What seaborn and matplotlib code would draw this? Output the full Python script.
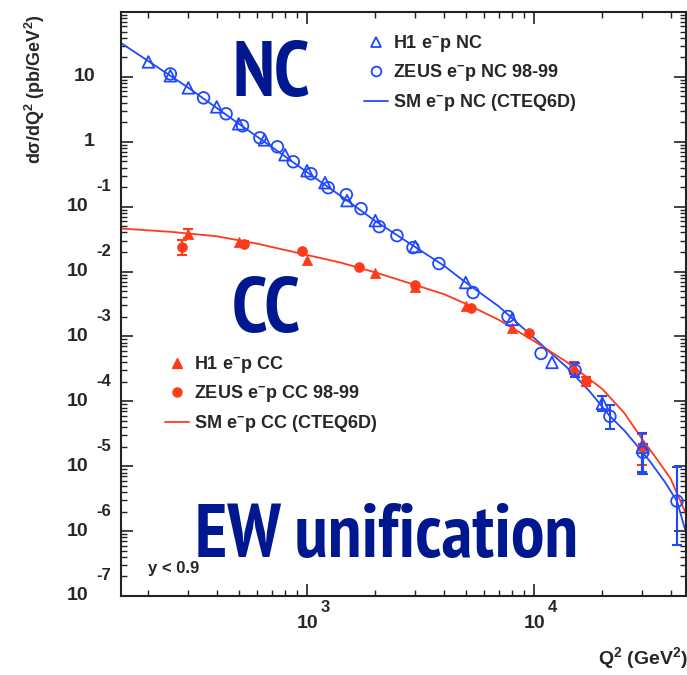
import math
import matplotlib.pyplot as plt
import seaborn as sns
from matplotlib import font_manager
from matplotlib.lines import Line2D
from matplotlib.ticker import LogLocator, NullFormatter

# ---- data ----
# SM curves (CTEQ6D)
q2_nc_curve = [152, 200, 300, 500, 700, 1000, 1500, 2000, 3000, 4000, 5000, 7000,
               10000, 14000, 17660, 21600, 25100, 29300, 32400, 37760, 42650, 47200]
xs_nc_curve = [33, 17.5, 6.8, 1.9, 0.83, 0.34, 0.125, 0.06, 0.0238, 0.0124, 0.0068, 0.0029,
               9.5e-4, 3.3e-4, 1.4e-4, 5.9e-5, 3.5e-5, 1.83e-5, 1.19e-5, 5.7e-6, 2.9e-6, 8.4e-7]

q2_cc_curve = [152, 250, 400, 600, 1000, 1400, 2000, 3000, 4000, 5000, 7000, 10000,
               14000, 20000, 25000, 30000, 35000, 40000, 47200]
xs_cc_curve = [0.046, 0.041, 0.035, 0.027, 0.018, 0.0138, 0.0097, 0.0062, 0.0045, 0.0032,
               0.0018, 8.5e-4, 4.0e-4, 1.55e-4, 6.6e-5, 2.6e-5, 1.25e-5, 6.4e-6, 1.7e-6]

# H1 e-p NC
q2_h1_nc = [200, 250, 300, 400, 500, 650, 800, 1000, 1200, 1500, 2000, 3000, 5000, 8000,
            12000, 20000, 30000]
xs_h1_nc = [17.0, 10.4, 6.78, 3.45, 1.89, 1.07, 0.631, 0.358, 0.234, 0.124, 0.0609, 0.0243,
            0.00677, 0.00183, 3.98e-4, 9.3e-5, 1.96e-5]
err_q2_h1_nc = [20000, 30000]
err_lo_h1_nc = [7.0e-5, 8.1e-6]
err_hi_h1_nc = [1.19e-4, 3.3e-5]

# ZEUS e-p NC 98-99
q2_zeus_nc = [250, 350, 440, 520, 620, 740, 870, 1040, 1240, 1490, 1730, 2080, 2490, 2930,
              3810, 5390, 7680, 10740, 15170, 21600, 30200, 42650]
xs_zeus_nc = [11.1, 4.75, 2.70, 1.76, 1.15, 0.837, 0.492, 0.322, 0.196, 0.153, 0.0931, 0.0492,
              0.0358, 0.0234, 0.01327, 0.00475, 0.00203, 5.47e-4, 3.0e-4, 5.87e-5, 1.64e-5, 2.9e-6]
err_q2_zeus_nc = [15170, 21600, 30200, 42650]
err_lo_zeus_nc = [2.34e-4, 3.7e-5, 7.5e-6, 6.1e-7]
err_hi_zeus_nc = [3.85e-4, 8.67e-5, 2.18e-5, 9.66e-6]

# H1 e-p CC
q2_h1_cc = [300, 500, 1000, 2000, 3000, 5000, 8000, 15000, 30000]
xs_h1_cc = [0.0385, 0.029, 0.0153, 0.00966, 0.0058, 0.0029, 0.00137, 3.33e-4, 2.18e-5]
err_q2_h1_cc = [300, 15000, 30000]
err_lo_h1_cc = [0.0333, 2.6e-4, 7.5e-6]
err_hi_h1_cc = [0.0459, 4.1e-4, 3.3e-5]

# ZEUS e-p CC 98-99
q2_zeus_cc = [280, 530, 950, 1700, 3000, 5300, 9500, 17000, 30000]
xs_zeus_cc = [0.0243, 0.027, 0.021, 0.0119, 0.0061, 0.0027, 0.00115, 2.03e-4, 2.0e-5]
err_q2_zeus_cc = [280, 530, 17000, 30000]
err_lo_zeus_cc = [0.0183, 0.0245, 1.7e-4, 1.05e-5]
err_hi_zeus_cc = [0.031, 0.030, 2.4e-4, 3.1e-5]

blue = '#1f48ff'
red = '#ff3a1a'
navy = '#00188f'

sns.set_style('ticks')
plt.rcParams['font.family'] = ['Liberation Sans', 'DejaVu Sans']
plt.rcParams['font.weight'] = 'bold'
plt.rcParams['mathtext.fontset'] = 'custom'
plt.rcParams['mathtext.rm'] = 'Liberation Sans:bold'
plt.rcParams['mathtext.bf'] = 'Liberation Sans:bold'
plt.rcParams['mathtext.it'] = 'Liberation Sans:bold:italic'
plt.rcParams['mathtext.default'] = 'rm'

W, H = 687, 675
fig = plt.figure(figsize=(W / 100, H / 100), dpi=100)
ax = fig.add_axes([121 / W, 1 - 596 / H, (686 - 121) / W, (596 - 12) / H])
ax.set_xscale('log')
ax.set_yscale('log')
ax.set_xlim(151.5, 46740)
ax.set_ylim(1e-7, 1e2)

# curves
sns.lineplot(x=q2_nc_curve, y=xs_nc_curve, color=blue, lw=1.3, estimator=None, ax=ax)
sns.lineplot(x=q2_cc_curve, y=xs_cc_curve, color=red, lw=1.3, estimator=None, ax=ax)

# error bars
def bars(q, lo, hi, yq, yv, col):
    yy = [yv[yq.index(v)] for v in q]
    ax.errorbar(q, yy, yerr=[[a - b for a, b in zip(yy, lo)], [b - a for a, b in zip(yy, hi)]],
                fmt='none', ecolor=col, elinewidth=1.5, capsize=3.5, capthick=1.5, zorder=3)

bars(err_q2_h1_cc, err_lo_h1_cc, err_hi_h1_cc, q2_h1_cc, xs_h1_cc, red)
bars(err_q2_zeus_cc, err_lo_zeus_cc, err_hi_zeus_cc, q2_zeus_cc, xs_zeus_cc, red)
bars(err_q2_h1_nc, err_lo_h1_nc, err_hi_h1_nc, q2_h1_nc, xs_h1_nc, blue)
bars(err_q2_zeus_nc, err_lo_zeus_nc, err_hi_zeus_nc, q2_zeus_nc, xs_zeus_nc, blue)

# points
sns.scatterplot(x=q2_h1_cc, y=xs_h1_cc, marker='^', color=red, edgecolor=red, s=55, linewidth=0.5, ax=ax, zorder=4)
sns.scatterplot(x=q2_zeus_cc, y=xs_zeus_cc, marker='o', color=red, edgecolor=red, s=50, linewidth=0.5, ax=ax, zorder=4)
sns.scatterplot(x=q2_h1_nc, y=xs_h1_nc, marker='^', color=blue, facecolors='none', edgecolor=blue, s=70, linewidth=1.3, ax=ax, zorder=4)
sns.scatterplot(x=q2_zeus_nc, y=xs_zeus_nc, marker='o', color=blue, facecolors='none', edgecolor=blue, s=70, linewidth=1.3, ax=ax, zorder=4)

# axes styling (ROOT-like)
for sp in ax.spines.values():
    sp.set_visible(True)
    sp.set_linewidth(1.5)
    sp.set_color('#222222')
ax.xaxis.set_major_locator(LogLocator(base=10, numticks=20))
ax.xaxis.set_minor_locator(LogLocator(base=10, subs=range(2, 10), numticks=20))
ax.yaxis.set_major_locator(LogLocator(base=10, numticks=20))
ax.yaxis.set_minor_locator(LogLocator(base=10, subs=range(2, 10), numticks=20))
ax.xaxis.set_minor_formatter(NullFormatter())
ax.yaxis.set_minor_formatter(NullFormatter())
ax.tick_params(which='both', direction='in', top=True, right=True, color='#222222',
               labelleft=False, labelbottom=False)
ax.tick_params(which='major', length=8.5, width=1.2)
ax.tick_params(which='minor', length=4.5, width=1.0)
ax.set_xlabel('')
ax.set_ylabel('')

px = 0.72  # points per pixel
for e in range(-7, 2):
    v = 10.0 ** e
    if e == 1 or e == 0:
        ax.annotate('10' if e == 1 else '1', xy=(0, v), xycoords=ax.get_yaxis_transform(),
                    xytext=(-26 * px, 0), textcoords='offset points', ha='right', va='center',
                    fontsize=14, fontweight='bold', annotation_clip=False)
    else:
        ax.annotate('10', xy=(0, v), xycoords=ax.get_yaxis_transform(),
                    xytext=(-33 * px, 0), textcoords='offset points', ha='right', va='center',
                    fontsize=14, fontweight='bold', annotation_clip=False)
        ax.annotate(str(e), xy=(0, v), xycoords=ax.get_yaxis_transform(),
                    xytext=(-25 * px, 20 * px), textcoords='offset points', ha='left', va='center',
                    fontsize=12, fontweight='bold', annotation_clip=False)
for e in (3, 4):
    v = 10.0 ** e
    ax.annotate('10', xy=(v, 0), xycoords=ax.get_xaxis_transform(),
                xytext=(0.5 * px, -27 * px), textcoords='offset points', ha='center', va='center',
                fontsize=14, fontweight='bold', annotation_clip=False)
    ax.annotate(str(e), xy=(v, 0), xycoords=ax.get_xaxis_transform(),
                xytext=(14 * px, -12 * px), textcoords='offset points', ha='left', va='center',
                fontsize=12, fontweight='bold', annotation_clip=False)

fig.text(35 / W, 1 - 14 / H, r'd$\sigma$/dQ$^2$ (pb/GeV$^2$)', rotation=90, ha='center', va='top',
         fontsize=13, fontweight='bold')
fig.text(598 / W, 1 - 658 / H, r'Q$^2$ (GeV$^2$)', ha='left', va='center', fontsize=14, fontweight='bold')

# big labels: pick the upright bold face whose width at ~55pt is closest to the reference,
# then size each label to its width
renderer = fig.canvas.get_renderer()
cands = [font_manager.FontProperties(fname=f.fname) for f in font_manager.fontManager.ttflist
         if ('ondensed' in str(f.stretch) or 'Narrow' in f.name or 'Condensed' in f.name)
         and 'Mono' not in f.name and f.style == 'normal'
         and 'Italic' not in f.fname and 'Oblique' not in f.fname
         and str(f.weight) in ('bold', '700', 'semibold', '600')]
cands.append(font_manager.FontProperties(family='Lato', weight='bold'))


def text_width(fp, s, size):
    t = fig.text(0, 0, s, fontproperties=fp, fontsize=size)
    w = t.get_window_extent(renderer).width
    t.remove()
    return w


big_font = min(cands, key=lambda fp: abs(math.log(text_width(fp, 'EW unification', 55) / 383)))
sizes = {}
for s, target in [('NC', 86), ('CC', 74), ('EW unification', 383)]:
    sizes[s] = min(56, 50 * target / text_width(big_font, s, 50))
fig.text(232 / W, 1 - 96 / H, 'NC', color=navy, fontproperties=big_font, fontsize=sizes['NC'], va='baseline')
fig.text(232 / W, 1 - 332 / H, 'CC', color=navy, fontproperties=big_font, fontsize=sizes['CC'], va='baseline')
fig.text(195 / W, 1 - 557 / H, 'EW unification', color=navy, fontproperties=big_font,
         fontsize=sizes['EW unification'], va='baseline')

fig.text(148 / W, 1 - 568 / H, 'y < 0.9', ha='left', va='center', fontsize=12, fontweight='bold')

# legends
nc_handles = [Line2D([], [], marker='^', ls='none', mfc='none', mec=blue, mew=1.3, ms=7),
              Line2D([], [], marker='o', ls='none', mfc='none', mec=blue, mew=1.3, ms=7),
              Line2D([], [], color=blue, lw=1.3)]
nc_labels = [r'H1 e$^{-}$p NC', r'ZEUS e$^{-}$p NC 98-99', r'SM e$^{-}$p NC (CTEQ6D)']
cc_handles = [Line2D([], [], marker='^', ls='none', color=red, ms=7),
              Line2D([], [], marker='o', ls='none', color=red, ms=6.5),
              Line2D([], [], color=red, lw=1.3)]
cc_labels = [r'H1 e$^{-}$p CC', r'ZEUS e$^{-}$p CC 98-99', r'SM e$^{-}$p CC (CTEQ6D)']

leg_kw = dict(loc='upper left', frameon=False, borderpad=0, borderaxespad=0,
              handlelength=1.33, handletextpad=0.28, labelspacing=0.47,
              prop={'weight': 'bold', 'size': 13})
fig.legend(nc_handles, nc_labels, bbox_to_anchor=(364 / W, 1 - 33 / H), bbox_transform=fig.transFigure, **leg_kw)
fig.legend(cc_handles, cc_labels, bbox_to_anchor=(165 / W, 1 - 354 / H), bbox_transform=fig.transFigure, **leg_kw)

fig.savefig('out.png', dpi=100)
